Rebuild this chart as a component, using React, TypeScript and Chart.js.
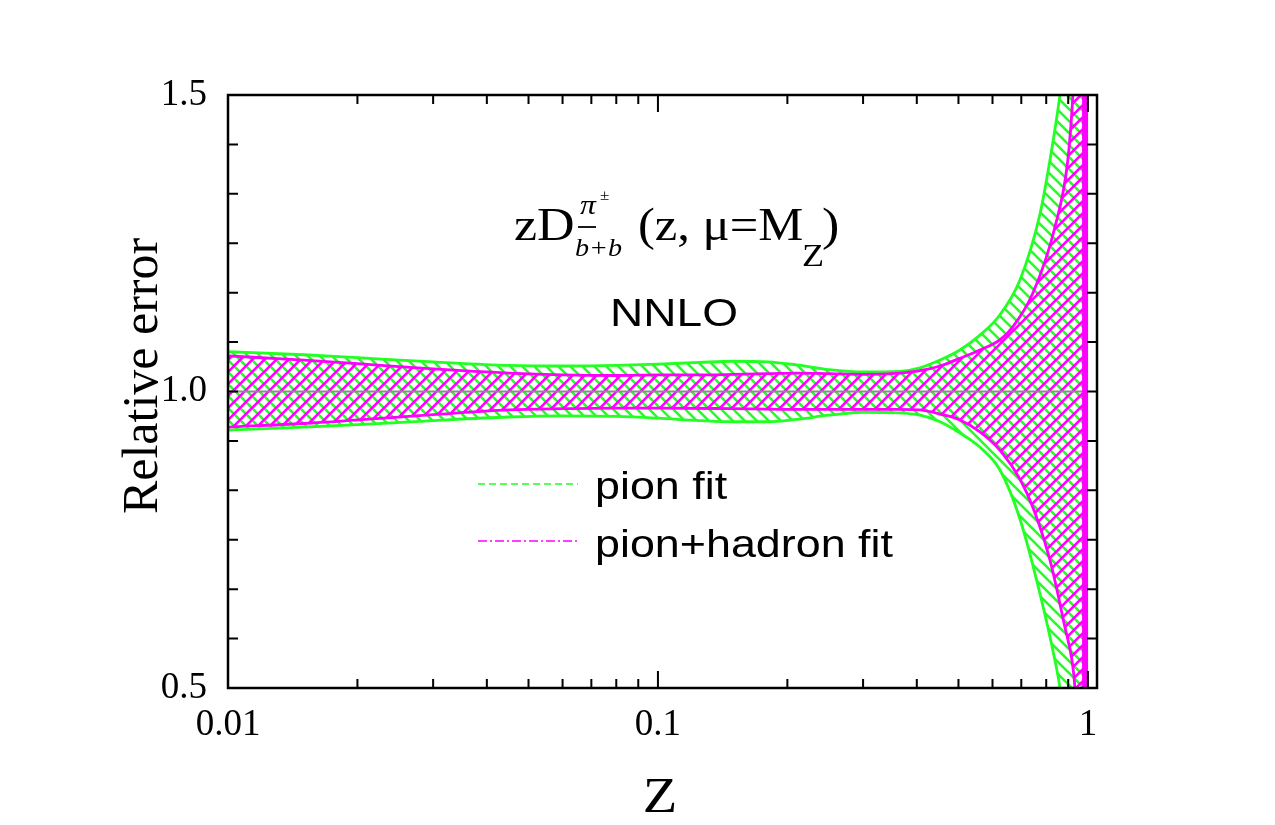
import React, { useEffect, useRef } from 'react';
import { Chart, registerables } from 'chart.js';

Chart.register(...registerables);

// ---- data ----
const Z_GREEN_UP = [0.01, 0.015, 0.02, 0.03, 0.045, 0.06, 0.08, 0.1, 0.125, 0.15, 0.18, 0.21, 0.25, 0.3, 0.365, 0.407, 0.453, 0.504, 0.561, 0.624, 0.695, 0.773, 0.816, 0.861, 0.9, 0.94, 0.985];
const V_GREEN_UP = [1.067, 1.062, 1.057, 1.05, 1.044, 1.043, 1.044, 1.046, 1.049, 1.051, 1.05, 1.045, 1.037, 1.033, 1.034, 1.04, 1.053, 1.07, 1.095, 1.129, 1.188, 1.298, 1.39, 1.5, 1.62, 1.8, 2.5];

const Z_GREEN_LO = [0.01, 0.015, 0.02, 0.03, 0.045, 0.06, 0.08, 0.1, 0.125, 0.15, 0.18, 0.21, 0.25, 0.3, 0.365, 0.407, 0.453, 0.504, 0.561, 0.624, 0.695, 0.773, 0.838, 0.861, 0.9, 0.94, 0.985];
const V_GREEN_LO = [0.935, 0.94, 0.944, 0.951, 0.957, 0.959, 0.958, 0.955, 0.951, 0.949, 0.949, 0.953, 0.96, 0.965, 0.964, 0.96, 0.949, 0.93, 0.906, 0.868, 0.785, 0.66, 0.547, 0.5, 0.38, 0.2, -0.5];

const Z_MAG_UP = [0.01, 0.015, 0.02, 0.03, 0.045, 0.06, 0.08, 0.1, 0.125, 0.15, 0.18, 0.21, 0.25, 0.3, 0.365, 0.407, 0.453, 0.504, 0.561, 0.624, 0.669, 0.745, 0.838, 0.898, 0.923, 0.95, 0.985];
const V_MAG_UP = [1.06, 1.053, 1.047, 1.038, 1.031, 1.028, 1.027, 1.028, 1.028, 1.029, 1.03, 1.031, 1.03, 1.029, 1.031, 1.035, 1.043, 1.056, 1.07, 1.087, 1.109, 1.166, 1.277, 1.39, 1.5, 1.7, 2.5];

const Z_MAG_LO = [0.01, 0.015, 0.02, 0.03, 0.045, 0.06, 0.08, 0.1, 0.15, 0.2, 0.25, 0.3, 0.365, 0.407, 0.453, 0.504, 0.561, 0.624, 0.721, 0.816, 0.884, 0.918, 0.933, 0.96, 0.985];
const V_MAG_LO = [0.94, 0.946, 0.952, 0.961, 0.969, 0.971, 0.972, 0.972, 0.971, 0.97, 0.97, 0.97, 0.97, 0.969, 0.962, 0.952, 0.932, 0.901, 0.829, 0.716, 0.603, 0.547, 0.5, 0.3, -0.5];

const Z_CENTER = [0.01, 0.985];
const V_CENTER = [1.0, 1.0];

const Z_EDGE = [0.985, 0.985];
const V_EDGE = [0.3, 1.7];

const X_MAJOR = [0.01, 0.1, 1];
const X_LABELS = ['0.01', '0.1', '1'];
const X_MINOR = [0.02, 0.03, 0.04, 0.05, 0.06, 0.07, 0.08, 0.09, 0.2, 0.3, 0.4, 0.5, 0.6, 0.7, 0.8, 0.9];
const Y_LABELED = [0.5, 1.0, 1.5];
const Y_LABELS = ['0.5', '1.0', '1.5'];
const Y_MARKS = [0.5, 0.5833, 0.6667, 0.75, 0.8333, 0.9167, 1.0, 1.0833, 1.1667, 1.25, 1.3333, 1.4167, 1.5];

const GREEN = '#22ff22';
const MAGENTA = '#ff00ff';

const zip = (xs: number[], ys: number[]) => xs.map((x, i) => ({ x, y: ys[i] }));

function hatch(color: string, dir: 'back' | 'fwd', size = 12, lw = 2.6) {
  const c = document.createElement('canvas');
  c.width = size;
  c.height = size;
  const g = c.getContext('2d')!;
  g.strokeStyle = color;
  g.lineWidth = lw;
  g.beginPath();
  if (dir === 'back') {
    g.moveTo(-2, -2); g.lineTo(size + 2, size + 2);
    g.moveTo(-2, size - 2); g.lineTo(2, size + 2);
    g.moveTo(size - 2, -2); g.lineTo(size + 2, 2);
  } else {
    g.moveTo(-2, size + 2); g.lineTo(size + 2, -2);
    g.moveTo(-2, 2); g.lineTo(2, -2);
    g.moveTo(size - 2, size + 2); g.lineTo(size + 2, size - 2);
  }
  g.stroke();
  return g.createPattern(c, 'repeat');
}

function drawText(ctx: CanvasRenderingContext2D, text: string, x: number, y: number, font: string, align: CanvasTextAlign = 'left', sx = 1.13) {
  ctx.save();
  ctx.font = font;
  ctx.textAlign = align;
  ctx.textBaseline = 'alphabetic';
  ctx.translate(x, y);
  ctx.scale(sx, 1);
  ctx.fillText(text, 0, 0);
  ctx.restore();
}

const SERIF = '"Liberation Serif", "Times New Roman", serif';
const SANS = '"Liberation Sans", Arial, sans-serif';

const decorPlugin = {
  id: 'decor',
  afterDraw(chart: any) {
    const ctx: CanvasRenderingContext2D = chart.ctx;
    const { left, right, top, bottom } = chart.chartArea;
    const xs = chart.scales.x;
    const ys = chart.scales.y;
    ctx.save();
    ctx.strokeStyle = '#000';
    ctx.lineWidth = 2.5;
    ctx.strokeRect(left, top, right - left, bottom - top);
    ctx.lineWidth = 2;
    ctx.beginPath();
    X_MAJOR.forEach((v) => {
      const px = xs.getPixelForValue(v);
      ctx.moveTo(px, bottom); ctx.lineTo(px, bottom - 17);
      ctx.moveTo(px, top); ctx.lineTo(px, top + 17);
    });
    X_MINOR.forEach((v) => {
      const px = xs.getPixelForValue(v);
      ctx.moveTo(px, bottom); ctx.lineTo(px, bottom - 9);
      ctx.moveTo(px, top); ctx.lineTo(px, top + 9);
    });
    Y_MARKS.forEach((v) => {
      const py = ys.getPixelForValue(v);
      ctx.moveTo(left, py); ctx.lineTo(left + 10, py);
      ctx.moveTo(right, py); ctx.lineTo(right - 10, py);
    });
    ctx.stroke();

    ctx.fillStyle = '#000';
    // axis titles
    drawText(ctx, 'Z', 660, 812, `50px ${SERIF}`, 'center');
    ctx.save();
    ctx.translate(157, 376);
    ctx.rotate(-Math.PI / 2);
    ctx.font = `50px ${SERIF}`;
    ctx.textAlign = 'center';
    ctx.textBaseline = 'alphabetic';
    ctx.fillText('Relative error', 0, 0);
    ctx.restore();

    // title formula
    drawText(ctx, 'zD', 514, 240, `46px ${SERIF}`);
    drawText(ctx, 'π', 580, 214, `italic 28px ${SERIF}`);
    drawText(ctx, '±', 600, 200, `15px ${SERIF}`);
    ctx.beginPath();
    ctx.lineWidth = 1.8;
    ctx.moveTo(578, 227); ctx.lineTo(596, 227);
    ctx.stroke();
    drawText(ctx, 'b+b', 575, 256, `italic 26px ${SERIF}`, 'left', 1.08);
    drawText(ctx, '(z, μ=M', 638, 240, `46px ${SERIF}`, 'left', 1.1);
    drawText(ctx, 'Z', 802, 266, `32px ${SERIF}`);
    drawText(ctx, ')', 822, 240, `46px ${SERIF}`);

    drawText(ctx, 'NNLO', 674, 326, `39px ${SANS}`, 'center', 1.18);

    // legend
    ctx.lineWidth = 1.5;
    ctx.strokeStyle = GREEN;
    ctx.setLineDash([7, 4]);
    ctx.beginPath(); ctx.moveTo(478, 484); ctx.lineTo(578, 484); ctx.stroke();
    ctx.strokeStyle = MAGENTA;
    ctx.setLineDash([9, 3, 2, 3]);
    ctx.beginPath(); ctx.moveTo(478, 541); ctx.lineTo(578, 541); ctx.stroke();
    ctx.setLineDash([]);
    drawText(ctx, 'pion fit', 595, 499, `38px ${SANS}`, 'left', 1.18);
    drawText(ctx, 'pion+hadron fit', 595, 557, `38px ${SANS}`, 'left', 1.18);
    ctx.restore();
  },
};

export default function App() {
  const ref = useRef<HTMLCanvasElement>(null);
  useEffect(() => {
    const cv = ref.current!;
    const greenPat = hatch(GREEN, 'back');
    const magPat = hatch(MAGENTA, 'fwd');
    const chart = new Chart(cv, {
      type: 'line',
      data: {
        datasets: [
          { data: zip(Z_GREEN_UP, V_GREEN_UP), borderColor: GREEN, borderWidth: 2.8, pointRadius: 0, fill: { target: 1 }, backgroundColor: greenPat as any, cubicInterpolationMode: 'monotone', order: 5 },
          { data: zip(Z_GREEN_LO, V_GREEN_LO), borderColor: GREEN, borderWidth: 2.8, pointRadius: 0, fill: false, cubicInterpolationMode: 'monotone', order: 4 },
          { data: zip(Z_MAG_UP, V_MAG_UP), borderColor: MAGENTA, borderWidth: 2.8, pointRadius: 0, fill: { target: 3 }, backgroundColor: magPat as any, cubicInterpolationMode: 'monotone', order: 3 },
          { data: zip(Z_MAG_LO, V_MAG_LO), borderColor: MAGENTA, borderWidth: 2.8, pointRadius: 0, fill: false, cubicInterpolationMode: 'monotone', order: 2 },
          { data: zip(Z_CENTER, V_CENTER), borderColor: '#8c8c8c', borderWidth: 2, pointRadius: 0, fill: false, order: 1 },
          { data: zip(Z_EDGE, V_EDGE), borderColor: MAGENTA, borderWidth: 6, pointRadius: 0, fill: false, order: 0 },
        ],
      },
      options: {
        responsive: false,
        animation: false,
        events: [],
        layout: { padding: { left: 0, top: 95, right: 178, bottom: 0 } },
        plugins: { legend: { display: false }, tooltip: { enabled: false }, title: { display: false } },
        scales: {
          x: {
            type: 'logarithmic',
            min: 0.01,
            max: 1.05,
            position: 'bottom',
            grid: { display: false, drawTicks: false },
            border: { display: false },
            afterBuildTicks: (s: any) => { s.ticks = X_MAJOR.map((v) => ({ value: v })); },
            afterFit: (s: any) => { s.height = 137; },
            ticks: {
              autoSkip: false,
              maxRotation: 0,
              padding: 15,
              color: '#000',
              font: { family: SERIF, size: 37 },
              callback: (v: any) => { const i = X_MAJOR.indexOf(Number(v)); return i >= 0 ? X_LABELS[i] : ''; },
            },
          },
          y: {
            type: 'linear',
            min: 0.5,
            max: 1.5,
            grid: { display: false, drawTicks: false },
            border: { display: false },
            afterBuildTicks: (s: any) => { s.ticks = Y_LABELED.map((v) => ({ value: v })); },
            afterFit: (s: any) => { s.width = 228; },
            ticks: {
              autoSkip: false,
              padding: 21,
              color: '#000',
              font: { family: SERIF, size: 37 },
              callback: (v: any) => { const i = Y_LABELED.indexOf(Number(v)); return i >= 0 ? Y_LABELS[i] : ''; },
            },
          },
        },
      },
      plugins: [decorPlugin],
    } as any);
    return () => chart.destroy();
  }, []);
  return (
    <div style={{ position: 'absolute', left: 0, top: 0, width: 1275, height: 825, background: '#fff' }}>
      <canvas ref={ref} width={1275} height={825} style={{ width: 1275, height: 825, display: 'block' }} />
    </div>
  );
}
